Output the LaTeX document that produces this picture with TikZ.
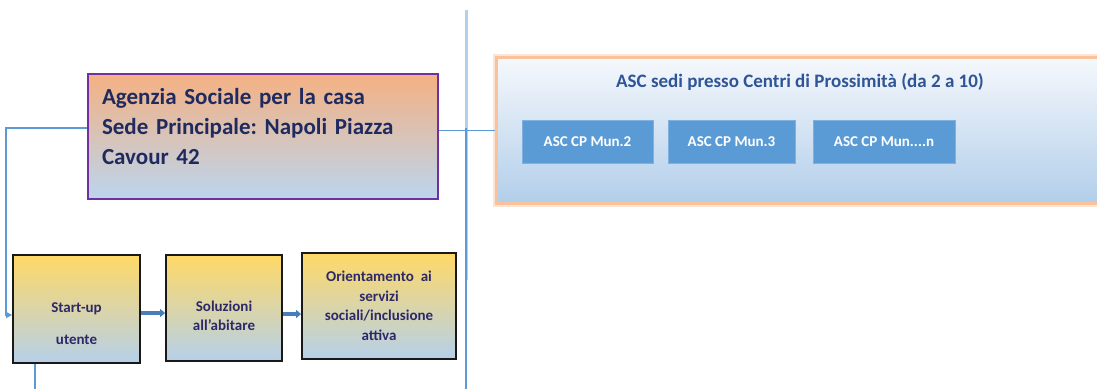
\documentclass[tikz,border=0pt]{standalone}
\usepackage{fontspec}
\setmainfont{Carlito}
\frenchspacing
\usetikzlibrary{arrows.meta,positioning,calc}
\definecolor{hqborder}{HTML}{7030A0}
\definecolor{hqtop}{HTML}{F4B183}
\definecolor{hqmid}{HTML}{CDC6C8}
\definecolor{hqbot}{HTML}{BCD5EE}
\definecolor{navytext}{HTML}{1F2A5E}
\definecolor{paneltop}{HTML}{F5F8FC}
\definecolor{panelbot}{HTML}{B2CEEA}
\definecolor{glow}{HTML}{F9C29C}
\definecolor{glowsoft}{HTML}{FCE3D2}
\definecolor{titletext}{HTML}{2F5597}
\definecolor{munfill}{HTML}{5B9BD5}
\definecolor{munedge}{HTML}{7FB0E0}
\definecolor{phasetop}{HTML}{FFD966}
\definecolor{phasemid}{HTML}{D8D3AE}
\definecolor{phasebot}{HTML}{B6D0EA}
\definecolor{phasetext}{HTML}{2D2968}
\definecolor{linkblue}{HTML}{5B9BD5}
\definecolor{lightline}{HTML}{B4CFEC}
\definecolor{flowblue}{HTML}{4A7EBB}

\begin{document}
\begin{tikzpicture}[
    x=1pt, y=-1pt,
    >=Triangle,
    hqbox/.style={
        draw=hqborder,
        line width=2pt,
        top color=hqtop,
        middle color=hqmid,
        bottom color=hqbot,
        minimum width=350pt,
        minimum height=125pt,
        text width=322pt,
        inner xsep=14pt,
        align=left,
        text=navytext,
        font=\fontsize{23}{30}\selectfont\bfseries
    },
    panel/.style={
        preaction={draw=glowsoft, line width=7pt},
        draw=glow,
        line width=3pt,
        top color=paneltop,
        bottom color=panelbot,
        minimum width=700pt,
        minimum height=146pt
    },
    munbox/.style={
        draw=munedge,
        line width=0.6pt,
        fill=munfill,
        minimum height=43pt,
        inner sep=0pt,
        text=white,
        font=\fontsize{15}{17}\selectfont\bfseries
    },
    phase/.style={
        draw=black!90,
        line width=1.8pt,
        top color=phasetop,
        middle color=phasemid,
        bottom color=phasebot,
        align=center,
        text=phasetext,
        font=\fontsize{15}{19.5}\selectfont\bfseries
    },
    link/.style={draw=linkblue, line width=1.5pt},
    flow/.style={->, draw=flowblue, line width=3.5pt, arrows={-{Triangle[length=5pt,width=8pt]}}}
]

\useasboundingbox (0,0) rectangle (1097,389);
\clip (0,0) rectangle (1097,389);

% central line
\coordinate (vtop) at (466,10);
\coordinate (vmid) at (466,280);
\coordinate (vcross) at (466,128);
\coordinate (vbot) at (466,389);
\draw[draw=lightline, line width=3pt] (vtop) -- (vmid);
\draw[link] (vcross) -- (vbot);

% head office
\node[hqbox, anchor=north west] (agenzia) at (87,73)
{Agenzia Sociale per la casa\\
Sede Principale: Napoli Piazza\\
Cavour 42\rule[-21pt]{0pt}{21pt}};

% proximity centres
\node[panel, anchor=north west] (sedi) at (495,56) {};
\node[text=titletext, font=\fontsize{19}{22}\selectfont\bfseries] (seditit) at (800,82)
{ASC sedi presso Centri di Prossimità (da 2 a 10)};

\node[munbox, minimum width=131pt] (mun2) at (587.5,141.5) {ASC CP Mun.2};
\node[munbox, minimum width=127pt] (mun3) at (731.5,141.5) {ASC CP Mun.3};
\node[munbox, minimum width=142pt] (munn) at (884,141.5) {ASC CP Mun....n};

% path of the user
\node[phase, minimum width=127pt, minimum height=108pt] (startup) at (76.5,309)
{\rule{0pt}{39pt}Start-up\\[13pt]utente};
\node[phase, minimum width=116pt, minimum height=106pt] (soluzioni) at (224,308)
{\rule{0pt}{26pt}Soluzioni\\all’abitare};
\node[phase, minimum width=154pt, minimum height=106pt] (orient) at (379,306)
{Orientamento\ \ ai\\servizi\\sociali/inclusione\\attiva};

\draw[link] (sedi.west -| agenzia.east) -- (sedi.west);

\coordinate (lcorner) at (6,128);
\draw[link, -{Triangle[length=6pt,width=6pt]}] (lcorner -| agenzia.west) -- (lcorner) |- ([yshift=-6pt]startup.west);

\coordinate (sdown) at (35,389);
\draw[link] (sdown |- startup.south) -- (sdown);

\draw[flow] ([yshift=-4pt]startup.east) -- ([yshift=-4pt]startup.east -| soluzioni.west);
\draw[flow] ([yshift=-6pt]soluzioni.east) -- ([yshift=-6pt]soluzioni.east -| orient.west);

\end{tikzpicture}
\end{document}
